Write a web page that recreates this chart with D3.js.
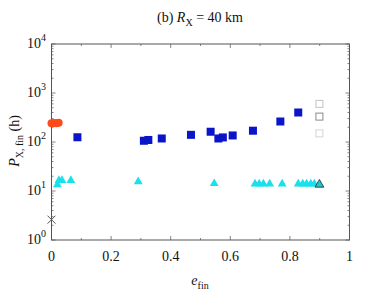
<!DOCTYPE html>
<html>
<head>
<meta charset="utf-8">
<script src="https://cdn.jsdelivr.net/npm/d3@7"></script>
<style>
  body { margin: 0; background: #fff; }
  text { font-family: "Liberation Serif", "DejaVu Serif", serif; fill: #111; }
</style>
</head>
<body>
<script>
    //Chart size
        const width = 374;
        const height = 299;
        const plotLeft = 51.5, plotRight = 349.5, plotTop = 44, plotBottom = 240;

    //Data
        const circleE = [0.0, 0.008, 0.016, 0.024];
        const circleP = [240, 245, 242, 246];

        const squareE = [0.087, 0.31, 0.325, 0.37, 0.468, 0.534, 0.56, 0.575, 0.608, 0.676, 0.768, 0.828];
        const squareP = [125, 106, 110, 118, 140, 162, 118, 124, 136, 170, 262, 400];

        const openE = [0.899, 0.899, 0.899];
        const openP = [600, 330, 150];
        const openColor = ["#c4c4c4", "#8a8a8a", "#d4d4d4"];

        const triE = [0.02, 0.025, 0.035, 0.065, 0.291, 0.546, 0.683, 0.697, 0.711, 0.732, 0.774, 0.828, 0.843, 0.856, 0.870, 0.882];
        const triP = [13.5, 16.5, 16.5, 16.5, 15.5, 14.2, 14, 14, 14, 14, 14, 14, 14, 14, 14, 14];

        const blackTriE = [0.899];
        const blackTriP = [13.5];

        const crossE = [0.0];
        const crossP = [2.6];

        const xTicks = [0, 0.2, 0.4, 0.6, 0.8, 1];
        const xTickLabels = ["0", "0.2", "0.4", "0.6", "0.8", "1"];
        const yTicks = [1, 10, 100, 1000, 10000];
        const yTickExp = ["0", "1", "2", "3", "4"];

    //Scales
        const xScale = d3.scaleLinear().domain([0, 1]).range([plotLeft, plotRight]);
        const yScale = d3.scaleLog().domain([1, 10000]).range([plotBottom, plotTop]);

        const svg = d3.select("body").append("svg")
                    .attr("width", width)
                    .attr("height", height);

    //Ticks on all four sides
        const xMinor = d3.range(0, 1.0001, 0.1);
        const yMinor = [];
        [1, 10, 100, 1000].forEach(b => { for (let k = 2; k <= 9; k++) yMinor.push(b * k); });

        const g = svg.append("g").attr("stroke", "#666").attr("stroke-width", 0.8);
        xMinor.forEach(v => {
            const major = xTicks.some(t => Math.abs(t - v) < 1e-6);
            const len = major ? 4 : 2;
            g.append("line").attr("x1", xScale(v)).attr("x2", xScale(v)).attr("y1", plotBottom).attr("y2", plotBottom - len);
            g.append("line").attr("x1", xScale(v)).attr("x2", xScale(v)).attr("y1", plotTop).attr("y2", plotTop + len);
        });
        yTicks.concat(yMinor).forEach(v => {
            const len = yTicks.includes(v) ? 4 : 2;
            g.append("line").attr("x1", plotLeft).attr("x2", plotLeft + len).attr("y1", yScale(v)).attr("y2", yScale(v));
            g.append("line").attr("x1", plotRight).attr("x2", plotRight - len).attr("y1", yScale(v)).attr("y2", yScale(v));
        });

        svg.append("rect")
            .attr("x", plotLeft).attr("y", plotTop)
            .attr("width", plotRight - plotLeft).attr("height", plotBottom - plotTop)
            .attr("fill", "none").attr("stroke", "#555").attr("stroke-width", 1);

    //Tick labels
        svg.selectAll(".xl").data(xTicks).enter().append("text")
            .attr("x", d => xScale(d)).attr("y", 261)
            .attr("text-anchor", "middle").attr("font-size", 14)
            .text((d, i) => xTickLabels[i]);

        const yl = svg.selectAll(".yl").data(yTicks).enter().append("text")
            .attr("x", 46).attr("y", d => yScale(d) + 4)
            .attr("text-anchor", "end").attr("font-size", 14);
        yl.append("tspan").text("10");
        yl.append("tspan").attr("dy", -7).attr("font-size", 10).text((d, i) => yTickExp[i]);

    //Marks
        const sym = d3.symbol();

        svg.selectAll(".tri").data(triE).enter().append("path")
            .attr("transform", (d, i) => `translate(${xScale(d)},${yScale(triP[i])})`)
            .attr("d", sym.type(d3.symbolTriangle).size(34)())
            .attr("fill", "#19e0ea");

        svg.selectAll(".btri").data(blackTriE).enter().append("path")
            .attr("transform", (d, i) => `translate(${xScale(d)},${yScale(blackTriP[i])})`)
            .attr("d", sym.type(d3.symbolTriangle).size(34)())
            .attr("fill", "#19c8d2").attr("stroke", "#333").attr("stroke-width", 0.9);

        svg.selectAll(".sq").data(squareE).enter().append("rect")
            .attr("x", d => xScale(d) - 4).attr("y", (d, i) => yScale(squareP[i]) - 4)
            .attr("width", 8).attr("height", 8)
            .attr("fill", "#0a14c8");

        svg.selectAll(".osq").data(openE).enter().append("rect")
            .attr("x", d => xScale(d) - 3.5).attr("y", (d, i) => yScale(openP[i]) - 3.5)
            .attr("width", 7).attr("height", 7)
            .attr("fill", "#fff").attr("stroke", (d, i) => openColor[i]).attr("stroke-width", 1);

        svg.selectAll(".circ").data(circleE).enter().append("circle")
            .attr("cx", d => xScale(d)).attr("cy", (d, i) => yScale(circleP[i]))
            .attr("r", 4).attr("fill", "#ff4a1a");

        svg.selectAll(".cross").data(crossE).enter().append("path")
            .attr("transform", (d, i) => `translate(${xScale(d)},${yScale(crossP[i])})`)
            .attr("d", "M-4,-4L4,4M-4,4L4,-4")
            .attr("stroke", "#555").attr("stroke-width", 1).attr("fill", "none");

    //Title and axis titles
        const title = svg.append("text").attr("x", 200).attr("y", 22)
            .attr("text-anchor", "middle").attr("font-size", 14);
        title.append("tspan").text("(b) ");
        title.append("tspan").attr("font-style", "italic").text("R");
        title.append("tspan").attr("dy", 4).attr("font-size", 10).text("X");
        title.append("tspan").attr("dy", -4).text(" = 40 km");

        const xt = svg.append("text").attr("x", 200).attr("y", 285)
            .attr("text-anchor", "middle").attr("font-size", 14);
        xt.append("tspan").attr("font-style", "italic").text("e");
        xt.append("tspan").attr("dy", 4).attr("font-size", 10).text("fin");

        const yt = svg.append("text")
            .attr("transform", "translate(19,141) rotate(-90)")
            .attr("text-anchor", "middle").attr("font-size", 14);
        yt.append("tspan").attr("font-style", "italic").text("P");
        yt.append("tspan").attr("dy", 4).attr("font-size", 10).text("X, fin");
        yt.append("tspan").attr("dy", -4).text(" (h)");
</script>
</body>
</html>
